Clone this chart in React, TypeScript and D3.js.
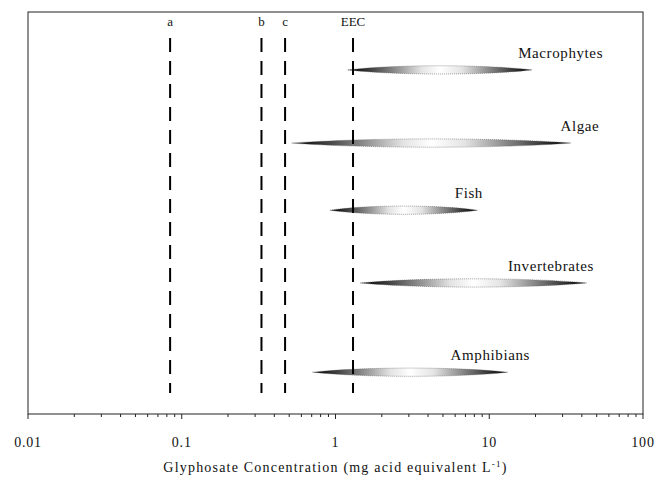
import React from "react";
import * as d3 from "d3";

const W = 655;
const H = 489;

// Taxa ranges of toxicity values (mg a.e./L)
const taxa = ["Macrophytes", "Algae", "Fish", "Invertebrates", "Amphibians"];
const rangeLow = [1.2, 0.52, 0.92, 1.45, 0.71];
const rangeHigh = [19, 34, 8.4, 43, 13.2];
const rowPos = [8.56, 6.74, 5.07, 3.26, 1.04];
const labelEnd = [55, 52, 9.1, 48, 18.4];

// Reference concentrations
const refNames = ["a", "b", "c", "EEC"];
const refValues = [0.084, 0.33, 0.47, 1.3];

const tickValues = [0.01, 0.1, 1, 10, 100];
const tickLabels = ["0.01", "0.1", "1", "10", "100"];

const margin = { left: 28, right: 12, top: 12, bottom: 75 };

export default function App() {
  const x = d3
    .scaleLog()
    .domain([0.01, 100])
    .range([margin.left, W - margin.right]);
  const y = d3
    .scaleLinear()
    .domain([0, 10])
    .range([H - margin.bottom, margin.top]);

  const minorTicks: number[] = [];
  for (let e = -2; e < 2; e++) {
    for (let k = 2; k <= 9; k++) minorTicks.push(k * Math.pow(10, e));
  }

  const font = "'Liberation Serif', 'Times New Roman', serif";
  const x0 = margin.left;
  const x1 = W - margin.right;
  const y0 = margin.top;
  const y1 = H - margin.bottom;

  return (
    <svg
      width={W}
      height={H}
      style={{ position: "absolute", left: 0, top: 0, background: "#fff" }}
      fontFamily={font}
    >
      <defs>
        <linearGradient id="spindle" x1="0" x2="1" y1="0" y2="0">
          <stop offset="0%" stopColor="#000" />
          <stop offset="6%" stopColor="#1a1a1a" />
          <stop offset="16%" stopColor="#555" />
          <stop offset="28%" stopColor="#999" />
          <stop offset="40%" stopColor="#e4e4e4" />
          <stop offset="50%" stopColor="#ffffff" />
          <stop offset="62%" stopColor="#e4e4e4" />
          <stop offset="74%" stopColor="#999" />
          <stop offset="85%" stopColor="#555" />
          <stop offset="94%" stopColor="#1a1a1a" />
          <stop offset="100%" stopColor="#000" />
        </linearGradient>
      </defs>

      {/* plot frame */}
      <rect
        x={x0}
        y={y0}
        width={x1 - x0}
        height={y1 - y0}
        fill="none"
        stroke="#222"
        strokeWidth={1}
      />

      {/* spindles */}
      {taxa.map((t, i) => {
        const a = x(rangeLow[i]);
        const b = x(rangeHigh[i]);
        const cy = y(rowPos[i]);
        const len = b - a;
        const h = 5.5;
        const path =
          `M${a},${cy} C${a + len * 0.25},${cy - h} ${b - len * 0.25},${cy - h} ${b},${cy} ` +
          `C${b - len * 0.25},${cy + h} ${a + len * 0.25},${cy + h} ${a},${cy} Z`;
        return (
          <g key={t}>
            <path d={path} fill="url(#spindle)" stroke="#666" strokeWidth={0.6} strokeDasharray="1 1" />
            <text
              x={x(labelEnd[i])}
              y={cy - 12}
              textAnchor="end"
              fontSize={15}
              letterSpacing={0.6}
              fill="#111"
            >
              {t}
            </text>
          </g>
        );
      })}

      {/* reference lines */}
      {refNames.map((n, i) => (
        <g key={n}>
          <line
            x1={x(refValues[i])}
            x2={x(refValues[i])}
            y1={38}
            y2={393}
            stroke="#000"
            strokeWidth={2}
            strokeDasharray="14 9"
          />
          <text
            x={x(refValues[i])}
            y={26}
            textAnchor="middle"
            fontSize={13}
            fill="#111"
          >
            {n}
          </text>
        </g>
      ))}

      {/* x axis ticks */}
      {minorTicks.map((v) => (
        <line key={"m" + v} x1={x(v)} x2={x(v)} y1={y1} y2={y1 + 3} stroke="#222" strokeWidth={1} />
      ))}
      {tickValues.map((v, i) => (
        <g key={"t" + v}>
          <line x1={x(v)} x2={x(v)} y1={y1} y2={y1 + 5} stroke="#222" strokeWidth={1} />
          <text
            x={x(v)}
            y={447}
            textAnchor="middle"
            fontSize={14}
            letterSpacing={0.8}
            fill="#111"
          >
            {tickLabels[i]}
          </text>
        </g>
      ))}

      {/* axis title */}
      <text
        x={(x0 + x1) / 2}
        y={472}
        textAnchor="middle"
        fontSize={14}
        letterSpacing={1.2}
        fill="#111"
      >
        Glyphosate Concentration (mg acid equivalent L
        <tspan dy={-5} fontSize={9}>
          -1
        </tspan>
        <tspan dy={5}>)</tspan>
      </text>
    </svg>
  );
}
